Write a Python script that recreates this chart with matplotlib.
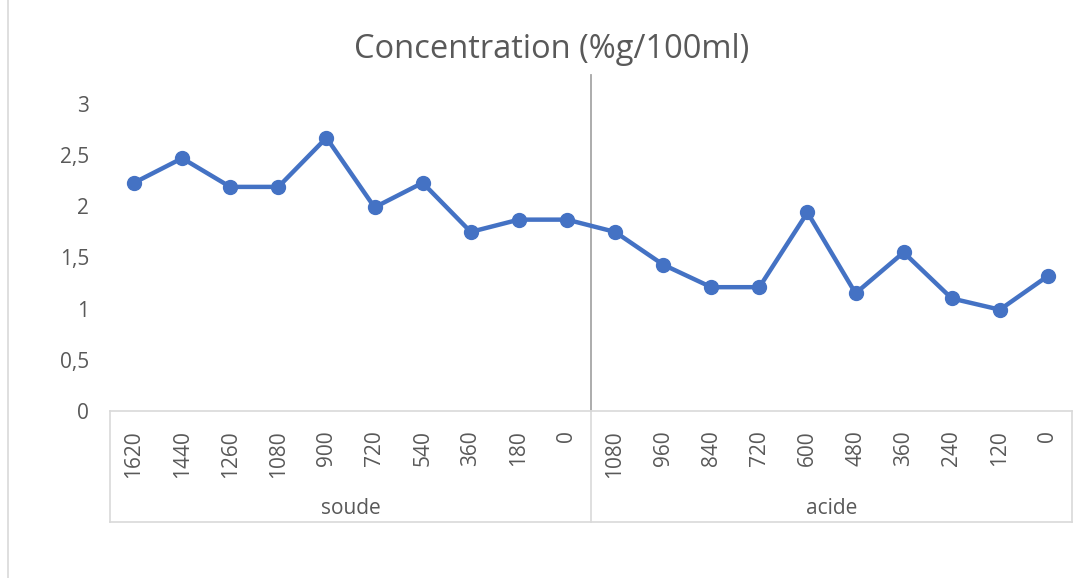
import numpy as np
import matplotlib.pyplot as plt
from matplotlib.lines import Line2D

# Données
groupes = ['soude', 'acide']
temps_soude = ['1620', '1440', '1260', '1080', '900', '720', '540', '360', '180', '0']
temps_acide = ['1080', '960', '840', '720', '600', '480', '360', '240', '120', '0']
conc_soude = [2.23, 2.47, 2.19, 2.19, 2.67, 1.99, 2.23, 1.75, 1.87, 1.87]
conc_acide = [1.75, 1.43, 1.21, 1.21, 1.94, 1.15, 1.55, 1.10, 0.99, 1.32]

etiquettes = temps_soude + temps_acide
valeurs = conc_soude + conc_acide
x = np.arange(len(valeurs))

plt.rcParams['font.family'] = ['Open Sans', 'DejaVu Sans']
gris = '#595959'

fig = plt.figure(figsize=(10.82, 5.78), dpi=100)
ax = fig.add_axes([110 / 1082, 1 - 411 / 578, (1072 - 110) / 1082, (411 - 104) / 578])

ax.plot(x, valeurs, color='#4472C4', linewidth=3.2, marker='o', markersize=10,
        solid_joinstyle='round', zorder=3)

ax.set_xlim(-0.5, len(valeurs) - 0.5)
ax.set_ylim(0, 3)
ax.set_yticks(np.arange(0, 3.01, 0.5))
ax.set_yticklabels([f'{v:g}'.replace('.', ',') for v in np.arange(0, 3.01, 0.5)])
ax.set_xticks(x)
ax.set_xticklabels(etiquettes, rotation=90, va='top')
ax.tick_params(axis='both', length=0, labelsize=15, colors=gris)
ax.tick_params(axis='y', pad=15)
ax.tick_params(axis='x', pad=14)

for s in ['top', 'right', 'left']:
    ax.spines[s].set_visible(False)
ax.spines['bottom'].set_color('#D9D9D9')
ax.spines['bottom'].set_linewidth(1.2)

# Séparateur entre les groupes
n1 = len(temps_soude)
sep = n1 - 0.5
ax.plot([sep, sep], [0, 3.28], color='#A6A6A6', linewidth=1.3, clip_on=False, zorder=2)

# Lignes des catégories multi-niveaux
tr = ax.get_xaxis_transform()
y_bas = -(522 - 411) / (411 - 104)
ligne = dict(color='#D9D9D9', linewidth=1.2, clip_on=False, transform=tr)
for xv in [-0.5, sep, len(valeurs) - 0.5]:
    ax.add_line(Line2D([xv, xv], [0, y_bas], **ligne))
ax.add_line(Line2D([-0.5, len(valeurs) - 0.5], [y_bas, y_bas], **ligne))

y_grp = -(508 - 411) / (411 - 104)
ax.text((n1 - 1) / 2, y_grp, groupes[0], transform=tr, ha='center', va='center',
        fontsize=15, color=gris)
ax.text(n1 + (len(temps_acide) - 1) / 2, y_grp, groupes[1], transform=tr,
        ha='center', va='center', fontsize=15, color=gris)

fig.text(552 / 1082, 1 - 50 / 578, 'Concentration (%g/100ml)', ha='center', va='center',
         fontsize=23.5, color=gris)

# Bordure gauche du graphique
fig.add_artist(Line2D([8 / 1082, 8 / 1082], [0, 1], color='#D9D9D9', linewidth=1.2))

fig.savefig('out.png', dpi=100)
